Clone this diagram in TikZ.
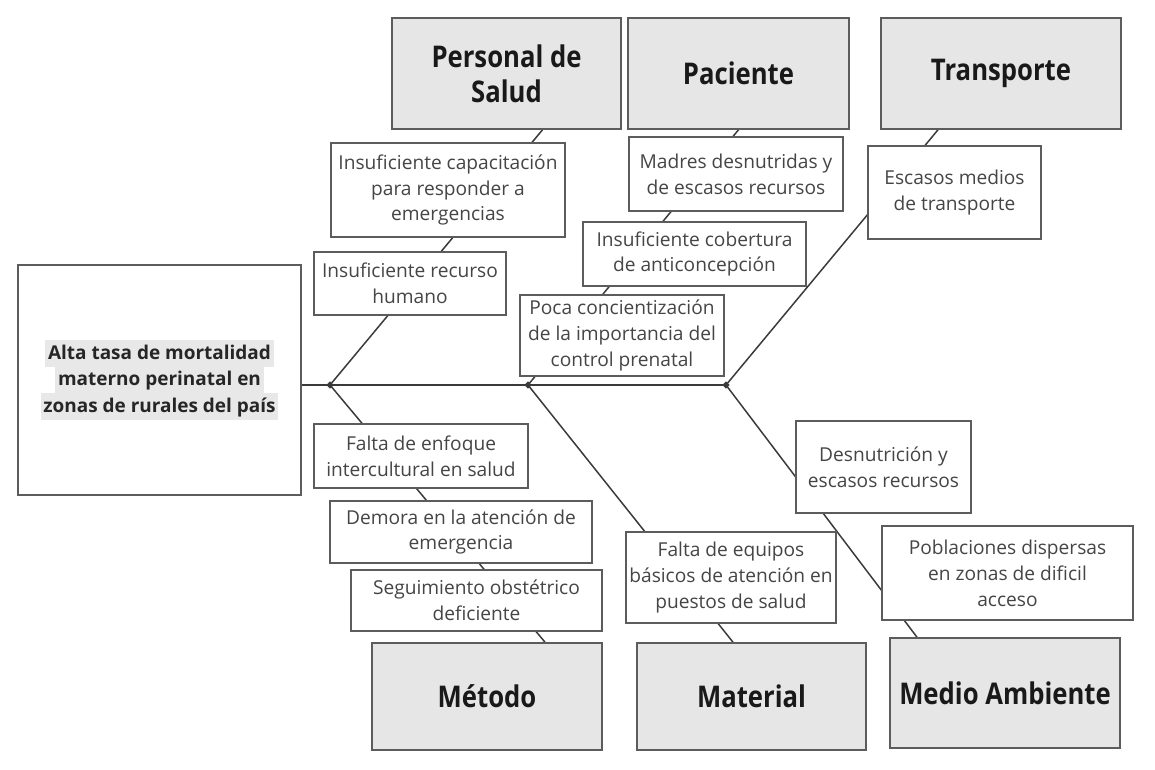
\documentclass[tikz,border=0pt]{standalone}
\usepackage{fontspec}
\setmainfont{Open Sans}
\newfontfamily\catfont[FakeStretch=0.86]{Open Sans}
\usetikzlibrary{shapes.geometric,calc,backgrounds}

\definecolor{catfill}{HTML}{E6E6E6}
\definecolor{boxline}{HTML}{5C5C5C}
\definecolor{boneline}{HTML}{3A3A3A}
\definecolor{causetext}{HTML}{454545}
\definecolor{hlfill}{HTML}{E8E8E8}
\newcommand{\hlline}[1]{{\setlength{\fboxsep}{0pt}\colorbox{hlfill}{\rule[-0.28\baselineskip]{0pt}{\baselineskip}\hspace{1.5pt}#1\hspace{1.5pt}}}}

\begin{document}
\begin{tikzpicture}[x=0.02cm,y=-0.02cm,
    every node/.style={align=center,inner sep=2pt},
    sz/.style 2 args={minimum width=#1*0.02cm,minimum height=#2*0.02cm},
    cat/.style={draw=boxline,line width=0.9pt,fill=catfill,text=black!90,
        font=\catfont\bfseries\fontsize{17}{20}\selectfont},
    cause/.style={draw=boxline,line width=0.8pt,fill=white,text=causetext,
        font=\fontsize{10.9}{14.7}\selectfont},
    effect/.style={draw=boxline,line width=0.9pt,fill=white,text=black!85,
        font=\bfseries\fontsize{10.8}{15.3}\selectfont},
    bone/.style={draw=boneline,line width=0.85pt},
    joint/.style={diamond,fill=boneline,inner sep=0pt,minimum size=0.15cm}]
\useasboundingbox (0,0) rectangle (1155,770);

% effect
\node[effect,sz={283}{230}] (eff) at (159.5,380)
    {\hlline{Alta tasa de mortalidad}\\\hlline{materno perinatal en}\\\hlline{zonas de rurales del país}};

% categories
\node[cat,sz={229}{111}] (ps)  at (506.5,73.5) {Personal de\\Salud};
\node[cat,sz={221}{111}] (pac) at (738.5,73.5) {Paciente};
\node[cat,sz={240}{111}] (tra) at (1001,73.5)  {Transporte};
\node[cat,sz={230}{107}] (met) at (487,696.5)  {Método};
\node[cat,sz={229}{107}] (mat) at (751.5,696.5) {Material};
\node[cat,sz={230}{110}] (ma)  at (1005,693)   {Medio Ambiente};

% causes
\node[cause,sz={234}{94}] (capac)  at (448,190)    {Insuficiente capacitación\\para responder a\\emergencias};
\node[cause,sz={192}{63}] (recur)  at (410,283.5)  {Insuficiente recurso\\humano};
\node[cause,sz={214}{74}] (madres) at (736,174)    {Madres desnutridas y\\de escasos recursos};
\node[cause,sz={223}{64}] (cober)  at (694.5,254)  {Insuficiente cobertura\\de anticoncepción};
\node[cause,sz={204}{81}] (poca)   at (622,335.5)  {Poca concientización\\de la importancia del\\control prenatal};
\node[cause,sz={173}{93}] (medios) at (954.5,192.5) {Escasos medios\\de transporte};
\node[cause,sz={214}{64}] (enfoq)  at (421,456)    {Falta de enfoque\\intercultural en salud};
\node[cause,sz={262}{62}] (demora) at (461,532)    {Demora en la atención de\\emergencia};
\node[cause,sz={251}{61}] (segui)  at (476.5,600.5) {Seguimiento obstétrico\\deficiente};
\node[cause,sz={210}{91}] (equip)  at (731,577.5)  {Falta de equipos\\básicos de atención en\\puestos de salud};
\node[cause,sz={175}{92}] (desnut) at (883.5,467)  {Desnutrición y\\escasos recursos};
\node[cause,sz={251}{94}] (pobla)  at (1007.5,573) {Poblaciones dispersas\\en zonas de dificil\\acceso};

% joints on the spine
\node[joint] (j1) at (330,385) {};
\node[joint] (j2) at (528,385) {};
\node[joint] (j3) at (726,385) {};

\begin{pgfonlayer}{background}
\draw[bone] (eff.east |- j1) -- (j3.center);
\draw[bone] (j1.center) -- ($(ps.south)+(36,0)$);
\draw[bone] (j2.center) -- (pac.south);
\draw[bone] (j3.center) -- ($(tra.south)+(-63,0)$);
\draw[bone] (j1.center) -- ($(met.north)+(58,0)$);
\draw[bone] (j2.center) -- ($(mat.north)+(-18.5,0)$);
\draw[bone] (j3.center) -- ($(ma.north)+(-88,0)$);
\end{pgfonlayer}
\end{tikzpicture}
\end{document}
